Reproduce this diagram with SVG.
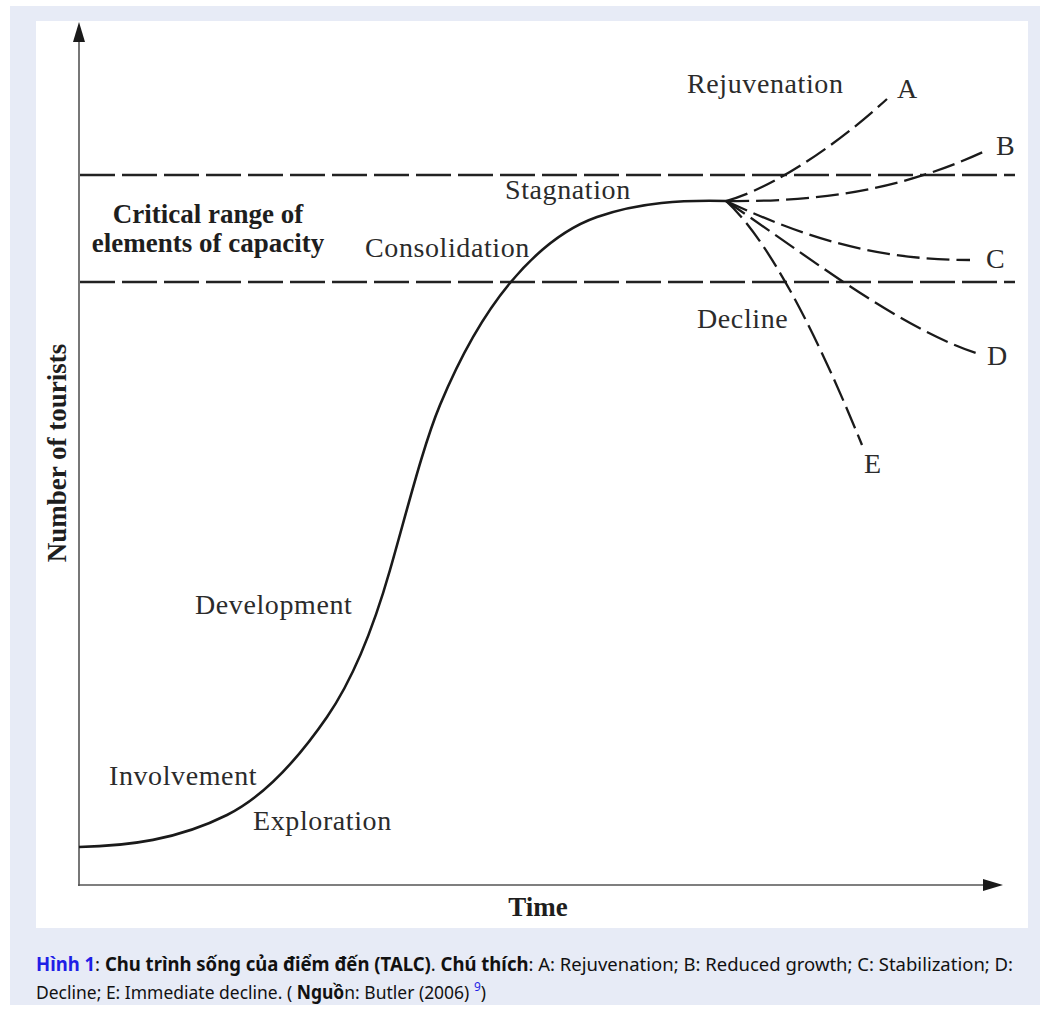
<svg xmlns="http://www.w3.org/2000/svg" width="1050" height="1015" viewBox="0 0 1050 1015">
<style>
.lbl{font-family:"Liberation Serif","Times New Roman",serif;font-size:28px;fill:#2b2b2b;letter-spacing:0.6px}
.bld{font-family:"Liberation Serif","Times New Roman",serif;font-size:27px;font-weight:bold;fill:#1e1e1e}
.axis{stroke:#555;stroke-width:1.6;fill:none}
.range{stroke:#222;stroke-width:2.4;fill:none;stroke-dasharray:35 7}
.curve{stroke:#1a1a1a;stroke-width:2.6;fill:none}
.branch{stroke:#1a1a1a;stroke-width:2.3;fill:none;stroke-dasharray:23 7}
.cap{font-family:"Noto Sans","Open Sans",sans-serif;font-size:19px;fill:#111}
.blue{fill:#1f1fe6}
</style>
<rect x="10" y="6" width="1030" height="999" fill="#e7ebf6"/>
<rect x="36" y="21" width="992" height="907" fill="#ffffff"/>
<g id="axes">
<line class="axis" x1="79" y1="38" x2="79" y2="886"/>
<polygon points="79,22 73,42 85,42" fill="#1a1a1a"/>
<line class="axis" x1="78" y1="885" x2="987" y2="885"/>
<polygon points="1003,885 983,879 983,891" fill="#1a1a1a"/>
</g>
<g id="connectors">
<line class="range" x1="80" y1="175" x2="1015" y2="175"/>
<line class="range" x1="80" y1="282" x2="1015" y2="282"/>
<path class="curve" d="M79,847 C128.3,846 177.7,839.7 227,815 C260.3,798.3 293.7,765.3 327,717 C348,686.5 369,643.5 390,570 C406.7,511.7 423.3,445 440,405 C463.3,349 486.7,311 510,283 C539,248.2 568,227.2 597,217 C640,202 683,200 726,201"/>
<path id="branchA" class="branch" d="M726,201 C760,192 820,160 887,99"/>
<path id="branchB" class="branch" d="M726,201 C820,202 900,190 983,152"/>
<path id="branchC" class="branch" d="M726,201 C800,235 870,260 970,260"/>
<path id="branchD" class="branch" d="M726,201 C800,250 900,330 982,355"/>
<path id="branchE" class="branch" d="M726,201 C760,232 805,305 862,445"/>
</g>
<g id="labels">
<text class="lbl" x="687" y="93">Rejuvenation</text>
<text class="lbl" x="897" y="98">A</text>
<text class="lbl" x="996" y="155">B</text>
<text class="lbl" x="986" y="268">C</text>
<text class="lbl" x="987" y="365">D</text>
<text class="lbl" x="864" y="473">E</text>
<text class="lbl" x="697" y="328">Decline</text>
<text class="lbl" x="505" y="199">Stagnation</text>
<text class="lbl" x="365" y="257">Consolidation</text>
<text class="lbl" x="195" y="614">Development</text>
<text class="lbl" x="109" y="785">Involvement</text>
<text class="lbl" x="253" y="830">Exploration</text>
<text class="bld" x="208" y="223" text-anchor="middle">Critical range of</text>
<text class="bld" x="208" y="252" text-anchor="middle">elements of capacity</text>
<text class="bld" transform="translate(66,453) rotate(-90)" text-anchor="middle">Number of tourists</text>
<text class="bld" x="538" y="916" text-anchor="middle">Time</text>
</g>
<g id="caption" transform="translate(36,0) scale(0.92,1)">
<text class="cap" x="0" y="971" textLength="1062" lengthAdjust="spacingAndGlyphs"><tspan class="blue" font-weight="bold">Hình 1</tspan>: <tspan font-weight="bold">Chu trình sống của điểm đến (TALC)</tspan>. <tspan font-weight="bold">Chú thích</tspan>: A: Rejuvenation; B: Reduced growth; C: Stabilization; D:</text>
<text class="cap" x="0" y="999">Decline; E: Immediate decline. ( <tspan font-weight="bold">Nguồ</tspan>n: Butler (2006) <tspan class="blue" font-size="13" dy="-8">9</tspan><tspan dy="8">)</tspan></text>
</g>
</svg>
